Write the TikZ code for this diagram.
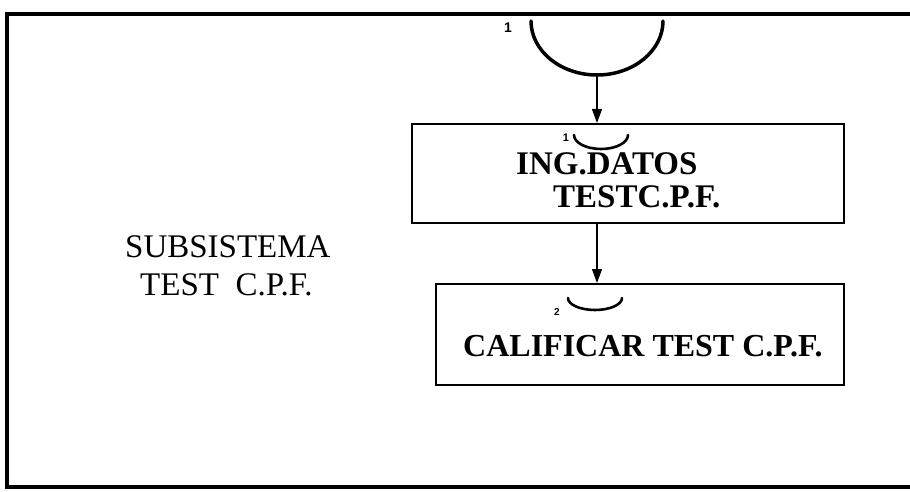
\documentclass[tikz,border=0pt]{standalone}
\usepackage{fontspec}
\setmainfont{Liberation Serif}
\newfontfamily\numfont{Liberation Sans}
\usetikzlibrary{arrows.meta}
\begin{document}
\begin{tikzpicture}[x=1pt,y=1pt,
  frame/.style={line width=3.5pt},
  procbox/.style={draw, line width=1.6pt, rectangle, inner sep=0pt, anchor=north west},
  flow/.style={line width=1.2pt, -{Triangle[length=14pt,width=10pt]}},
  connarc/.style={line width=3.5pt, line cap=round},
  smallarc/.style={line width=2.6pt, line cap=round},
  tag/.style={font=\numfont\bfseries\fontsize{14}{14}\selectfont, inner sep=0pt},
  proctext/.style={font=\bfseries\fontsize{32}{32}\selectfont, inner sep=0pt, anchor=base west},
  sysname/.style={font=\fontsize{33}{33}\selectfont, inner sep=0pt, anchor=base west}
]
\useasboundingbox (0,0) rectangle (910,491);

% open outer frame (runs off to the right)
\draw[frame] (912,477) -- (7,477) -- (7,4) -- (912,4);

% subsystem name
\node[sysname] (sub1) at (125,234) {SUBSISTEMA};
\node[sysname] (sub2) at (140,196) {TEST\ \ C.P.F.};

% incoming connector from the parent level
\draw[connarc] (531,470) arc[start angle=180, end angle=360, x radius=66, y radius=54];
\coordinate (arcbot) at (597,416);
\node[tag] (n0) at (508,463) {1};

% process boxes
\node[procbox, minimum width=432, minimum height=99] (box1) at (411,368) {};
\node[procbox, minimum width=408, minimum height=101] (box2) at (435,208) {};

% box 1 contents
\draw[smallarc] (574,356) arc[start angle=180, end angle=360, x radius=27, y radius=14];
\node[tag, font=\numfont\bfseries\fontsize{11}{11}\selectfont] (n1) at (566,353) {1};
\node[inner sep=0pt, anchor=north west, align=left,
      font=\bfseries\fontsize{33}{33}\selectfont] (t1) at (516,339)
      {ING.DATOS\\\hspace*{37pt}TESTC.P.F.};

% box 2 contents
\draw[smallarc] (568,193) arc[start angle=180, end angle=360, x radius=27, y radius=12];
\node[tag, font=\numfont\bfseries\fontsize{10}{10}\selectfont] (n2) at (557,179) {2};
\node[proctext] (t2) at (463,135) {CALIFICAR TEST C.P.F.};

% flow arrows
\draw[flow] (arcbot) -- (arcbot |- box1.north);
\draw[flow] (arcbot |- box1.south) -- (arcbot |- box2.north);
\end{tikzpicture}
\end{document}
